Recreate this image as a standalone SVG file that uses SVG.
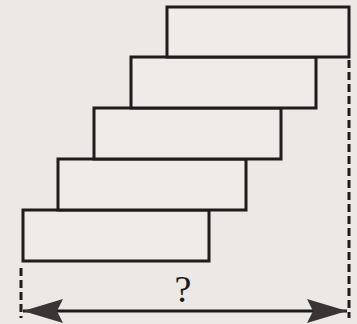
<svg xmlns="http://www.w3.org/2000/svg" width="357" height="324" viewBox="0 0 357 324">
<style>
.brick{fill:#eeebe8;stroke:#1e1c1c;stroke-width:3}
.dash{stroke:#1e1c1c;stroke-width:3;stroke-dasharray:8 4;fill:none}
.line{stroke:#1e1c1c;stroke-width:3;fill:none}
.q{font-family:"Liberation Serif",serif;font-size:38px;fill:#1e1c1c;text-anchor:middle}
</style>
<defs>
<marker id="ah" viewBox="0 0 40 24" refX="40" refY="12" markerWidth="40" markerHeight="24" markerUnits="userSpaceOnUse" orient="auto-start-reverse">
<path d="M0,0 L40,12 L0,24 L6,12 Z" fill="#3a3434"/>
</marker>
</defs>
<rect width="357" height="324" fill="#ebe8e5"/>
<g id="brick5"><rect class="brick" x="23" y="210" width="186" height="51"/></g>
<g id="brick4"><rect class="brick" x="58" y="159" width="188" height="51"/></g>
<g id="brick3"><rect class="brick" x="94" y="108" width="187" height="51"/></g>
<g id="brick2"><rect class="brick" x="131" y="57" width="185" height="51"/></g>
<g id="brick1"><rect class="brick" x="167" y="7" width="182" height="50"/></g>
<g id="connectors">
<line class="dash" x1="21" y1="268" x2="21" y2="318"/>
<line class="dash" x1="349" y1="60" x2="349" y2="318"/>
<line class="line" x1="23" y1="311" x2="347" y2="311" marker-start="url(#ah)" marker-end="url(#ah)"/>
</g>
<text class="q" x="183" y="302">?</text>
</svg>
